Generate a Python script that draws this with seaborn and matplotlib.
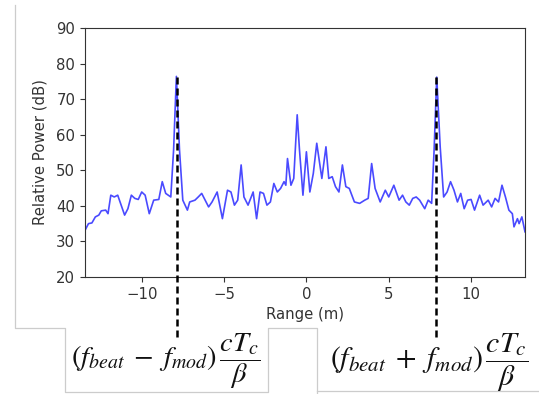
import matplotlib
matplotlib.use("Agg")
import matplotlib.pyplot as plt
import seaborn as sns
import pandas as pd
from matplotlib.lines import Line2D

# ---- data ----
range_m = [-13.47, -13.26, -13.05, -12.84, -12.63, -12.48, -12.21, -12.07, -11.90, -11.69,
           -11.48, -11.27, -11.06, -10.86, -10.65, -10.44, -10.23, -10.02, -9.81, -9.56,
           -9.29, -8.98, -8.77, -8.56, -8.25, -8.08, -7.91, -7.72, -7.52, -7.24,
           -7.10, -6.78, -6.58, -6.37, -6.16, -5.95, -5.74, -5.43, -5.11, -4.80,
           -4.59, -4.38, -4.18, -3.97, -3.80, -3.55, -3.24, -3.03, -2.82, -2.61,
           -2.40, -2.19, -1.98, -1.77, -1.57, -1.36, -1.25, -1.15, -0.94, -0.77,
           -0.56, -0.42, -0.21, 0.00, 0.21, 0.42, 0.63, 0.94, 1.19, 1.36,
           1.57, 1.77, 1.98, 2.19, 2.40, 2.61, 2.92, 3.24, 3.55, 3.76,
           3.97, 4.18, 4.49, 4.80, 5.01, 5.32, 5.64, 5.85, 6.05, 6.26,
           6.47, 6.68, 6.89, 7.20, 7.41, 7.62, 7.77, 7.93, 8.14, 8.35,
           8.56, 8.77, 8.98, 9.19, 9.39, 9.60, 9.81, 10.02, 10.23, 10.54,
           10.75, 11.06, 11.27, 11.48, 11.69, 11.90, 12.11, 12.32, 12.53, 12.63,
           12.84, 12.94, 13.11, 13.30]
power_db = [33.1, 35.0, 35.2, 36.9, 37.4, 38.6, 38.8, 37.8, 43.0, 42.5,
            43.0, 40.2, 37.4, 39.2, 43.0, 42.1, 41.8, 43.9, 43.0, 37.8,
            41.6, 41.8, 46.8, 43.5, 42.5, 55.7, 76.4, 55.7, 41.6, 38.8,
            41.1, 41.6, 42.5, 43.5, 41.6, 39.7, 41.1, 43.9, 36.4, 44.4,
            43.9, 40.2, 41.6, 51.5, 42.5, 40.2, 43.9, 36.4, 43.9, 43.5,
            40.2, 41.1, 46.3, 43.9, 44.9, 46.8, 45.8, 53.3, 45.8, 47.7,
            65.6, 55.7, 43.0, 55.2, 43.9, 49.1, 57.6, 47.7, 56.6, 47.7,
            48.2, 45.4, 43.9, 51.5, 45.4, 44.9, 41.1, 40.7, 41.6, 42.1,
            51.9, 44.9, 41.1, 44.4, 42.5, 45.8, 41.6, 43.0, 41.1, 40.2,
            42.1, 42.5, 41.6, 39.2, 41.6, 40.7, 55.7, 76.2, 56.6, 42.5,
            43.9, 46.8, 44.4, 41.1, 43.5, 39.2, 41.6, 41.8, 38.8, 43.0,
            40.2, 41.6, 39.7, 42.1, 41.1, 45.8, 42.5, 38.8, 37.8, 34.1,
            36.4, 35.0, 36.9, 32.7]

marker_x = [-7.9, 7.9]
marker_top = 76.3
formulas = [r"$(f_{beat}\;-\;f_{mod})\,\dfrac{cT_c}{\beta}$",
            r"$(f_{beat}\;+\;f_{mod})\,\dfrac{cT_c}{\beta}$"]
y_ticks = [20, 30, 40, 50, 60, 70, 80, 90]
x_ticks = [-10, -5, 0, 5, 10]

df = pd.DataFrame({"Range (m)": range_m, "Relative Power (dB)": power_db})

plt.rcParams["mathtext.fontset"] = "stix"
W, H = 539, 394
fig = plt.figure(figsize=(W / 100, H / 100), dpi=100)
ax = fig.add_axes([85 / W, 1 - 277 / H, (525 - 85) / W, (277 - 28) / H])

sns.lineplot(data=df, x="Range (m)", y="Relative Power (dB)", ax=ax,
             estimator=None, color="#4a4aff", lw=1.2)

ax.set_xlim(min(range_m), max(range_m))
ax.set_ylim(20, 90)
ax.set_yticks(y_ticks)
ax.set_xticks(x_ticks)
ax.set_xticklabels([("\u2212" + str(abs(t))) if t < 0 else str(t) for t in x_ticks])

txt = "#333333"
ax.tick_params(labelsize=10.7, colors=txt)
ax.set_xlabel("Range (m)", fontsize=10.7, color=txt, labelpad=4)
ax.set_ylabel("Relative Power (dB)", fontsize=10.7, color=txt, labelpad=6)
for s in ax.spines.values():
    s.set_color("#333333")

# dashed marker lines, extending below the axes
y_bottom = 90 - (340 - 28) / ((277 - 28) / 70)
for xv in marker_x:
    ax.plot([xv, xv], [marker_top, y_bottom], color="black", lw=1.8,
            dashes=(2.8, 1.6), clip_on=False, zorder=5)

# formulas
fig.text(166 / W, 1 - 361 / H, formulas[0], fontsize=20.5, ha="center", va="center", color="#111111")
fig.text(429 / W, 1 - 363 / H, formulas[1], fontsize=21.5, ha="center", va="center", color="#111111")

# light gray frame lines (screenshot edges)
gray = "#cccccc"
pts = [(14.5, 5), (14.5, 328), (65, 328), (65, 392), (268, 392), (268, 328), (317, 328), (317, 394)]
xs = [p[0] / W for p in pts]
ys = [1 - p[1] / H for p in pts]
fig.add_artist(Line2D(xs, ys, color=gray, lw=0.9, transform=fig.transFigure))
fig.add_artist(Line2D([317 / W, 1.0], [1 - 391 / H, 1 - 391 / H], color=gray, lw=0.9,
                      transform=fig.transFigure))

fig.savefig("out.png", dpi=100)
